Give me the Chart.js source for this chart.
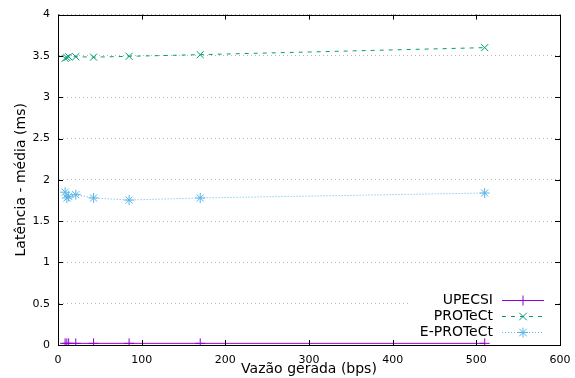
<!DOCTYPE html>
<html>
<head>
<meta charset="utf-8">
<script src="https://cdn.jsdelivr.net/npm/chart.js@4/dist/chart.umd.min.js"></script>
<style>
  html, body { margin: 0; padding: 0; background: #fff; }
  #wrap { width: 575px; height: 378px; }
</style>
</head>
<body>
<div id="wrap"><canvas id="myChart" width="575" height="378"></canvas></div>
<script>
// data
const vazao = [8.5, 10.6, 12.75, 21.25, 42.5, 85, 170, 510];
const upecsi = [0.02, 0.02, 0.02, 0.02, 0.02, 0.02, 0.02, 0.02];
const protect = [3.47, 3.48, 3.49, 3.49, 3.485, 3.495, 3.515, 3.6];
const eprotect = [1.85, 1.78, 1.8, 1.82, 1.78, 1.755, 1.78, 1.84];
const seriesNames = ['UPECSI', 'PROTeCt', 'E-PROTeCt'];
const xTicks = [0, 100, 200, 300, 400, 500, 600];
const yTicks = [0, 0.5, 1, 1.5, 2, 2.5, 3, 3.5, 4];

const FONT = 'DejaVu Sans';

function pts(ys) {
  return vazao.map((x, i) => ({ x: x, y: ys[i] }));
}

//frame, inward ticks and in-plot legend, like gnuplot
const framePlugin = {
  id: 'frame',
  beforeDatasetsDraw(chart) {
    const c = chart.ctx;
    c.save();
    c.fillStyle = '#fff';
    c.fillRect(409, 290, 147, 52);
    c.restore();
  },
  afterDraw(chart) {
    const c = chart.ctx;
    const a = chart.chartArea;
    const xs = chart.scales.x, ys = chart.scales.y;
    c.save();
    c.strokeStyle = '#000';
    c.lineWidth = 1;
    c.setLineDash([]);
    c.strokeRect(Math.round(a.left) + 0.5, Math.round(a.top) + 0.5, Math.round(a.right - a.left), Math.round(a.bottom - a.top));
    c.beginPath();
    yTicks.forEach(v => {
      const y = Math.round(ys.getPixelForValue(v)) + 0.5;
      c.moveTo(a.left, y); c.lineTo(a.left + 5, y);
      c.moveTo(a.right, y); c.lineTo(a.right - 5, y);
    });
    xTicks.forEach(v => {
      const x = Math.round(xs.getPixelForValue(v)) + 0.5;
      c.moveTo(x, a.bottom); c.lineTo(x, a.bottom - 5);
      c.moveTo(x, a.top); c.lineTo(x, a.top + 5);
    });
    c.stroke();

    // legend
    c.font = '14px "' + FONT + '"';
    c.textAlign = 'right';
    c.textBaseline = 'middle';
    const rows = [300, 316, 332];
    chart.data.datasets.forEach((ds, i) => {
      const y = rows[i] + 0.5;
      c.fillStyle = '#000';
      c.fillText(seriesNames[i], 493, y);
      c.strokeStyle = ds.borderColor;
      c.lineWidth = 1;
      c.setLineDash(ds.borderDash || []);
      c.beginPath();
      c.moveTo(502, y); c.lineTo(544, y);
      c.stroke();
      c.setLineDash([]);
      drawMark(c, ds.pointStyle, 523, y, 5, ds.borderColor);
    });
    c.restore();
  }
};

function drawMark(c, style, x, y, r, col) {
  c.strokeStyle = col;
  c.lineWidth = 1;
  c.beginPath();
  if (style === 'cross' || style === 'star') {
    c.moveTo(x - r, y); c.lineTo(x + r, y);
    c.moveTo(x, y - r); c.lineTo(x, y + r);
  }
  if (style === 'crossRot' || style === 'star') {
    const d = r * 0.75;
    c.moveTo(x - d, y - d); c.lineTo(x + d, y + d);
    c.moveTo(x - d, y + d); c.lineTo(x + d, y - d);
  }
  c.stroke();
}

const ctx = document.getElementById('myChart');
const myChart = new Chart(ctx, {
  type: 'line',
  data: {
    datasets: [{
      label: seriesNames[0],
      data: pts(upecsi),
      borderColor: '#9400d3',
      backgroundColor: '#9400d3',
      borderWidth: 1,
      pointStyle: 'cross',
      pointRadius: 5,
      pointBorderWidth: 1
    }, {
      label: seriesNames[1],
      data: pts(protect),
      borderColor: '#009e73',
      backgroundColor: '#009e73',
      borderWidth: 1,
      borderDash: [4, 5],
      pointStyle: 'crossRot',
      pointRadius: 5,
      pointBorderWidth: 1
    }, {
      label: seriesNames[2],
      data: pts(eprotect),
      borderColor: '#56b4e9',
      backgroundColor: '#56b4e9',
      borderWidth: 1,
      borderDash: [1, 2],
      pointStyle: 'star',
      pointRadius: 5,
      pointBorderWidth: 1
    }]
  },
  options: {
    responsive: false,
    animation: false,
    layout: { padding: { top: 13, right: 15, left: 0, bottom: 0 } },
    plugins: { legend: { display: false }, tooltip: { enabled: false } },
    scales: {
      x: {
        type: 'linear',
        min: 0, max: 600,
        afterBuildTicks: s => { s.ticks = xTicks.map(v => ({ value: v })); },
        afterFit: s => { s.height = 33; },
        grid: { display: false },
        border: { display: true, color: '#000' },
        ticks: { color: '#000', font: { family: FONT, size: 11 }, padding: 1, maxRotation: 0, callback: v => String(v) },
        title: { display: true, text: 'Vazão gerada (bps)', color: '#000', font: { family: FONT, size: 14 }, padding: { top: 0, bottom: 0 } }
      },
      y: {
        min: 0, max: 4,
        afterBuildTicks: s => { s.ticks = yTicks.map(v => ({ value: v })); },
        afterFit: s => { s.width = 58; },
        grid: { color: '#b8b8b8', drawTicks: false },
        border: { display: true, color: '#b8b8b8', dash: [1, 3] },
        ticks: { color: '#000', font: { family: FONT, size: 11 }, padding: 8, callback: v => String(v) },
        title: { display: true, text: 'Latência - média (ms)', color: '#000', font: { family: FONT, size: 14 }, padding: { top: 13, bottom: 0 } }
      }
    }
  },
  plugins: [framePlugin]
});
</script>
</body>
</html>
